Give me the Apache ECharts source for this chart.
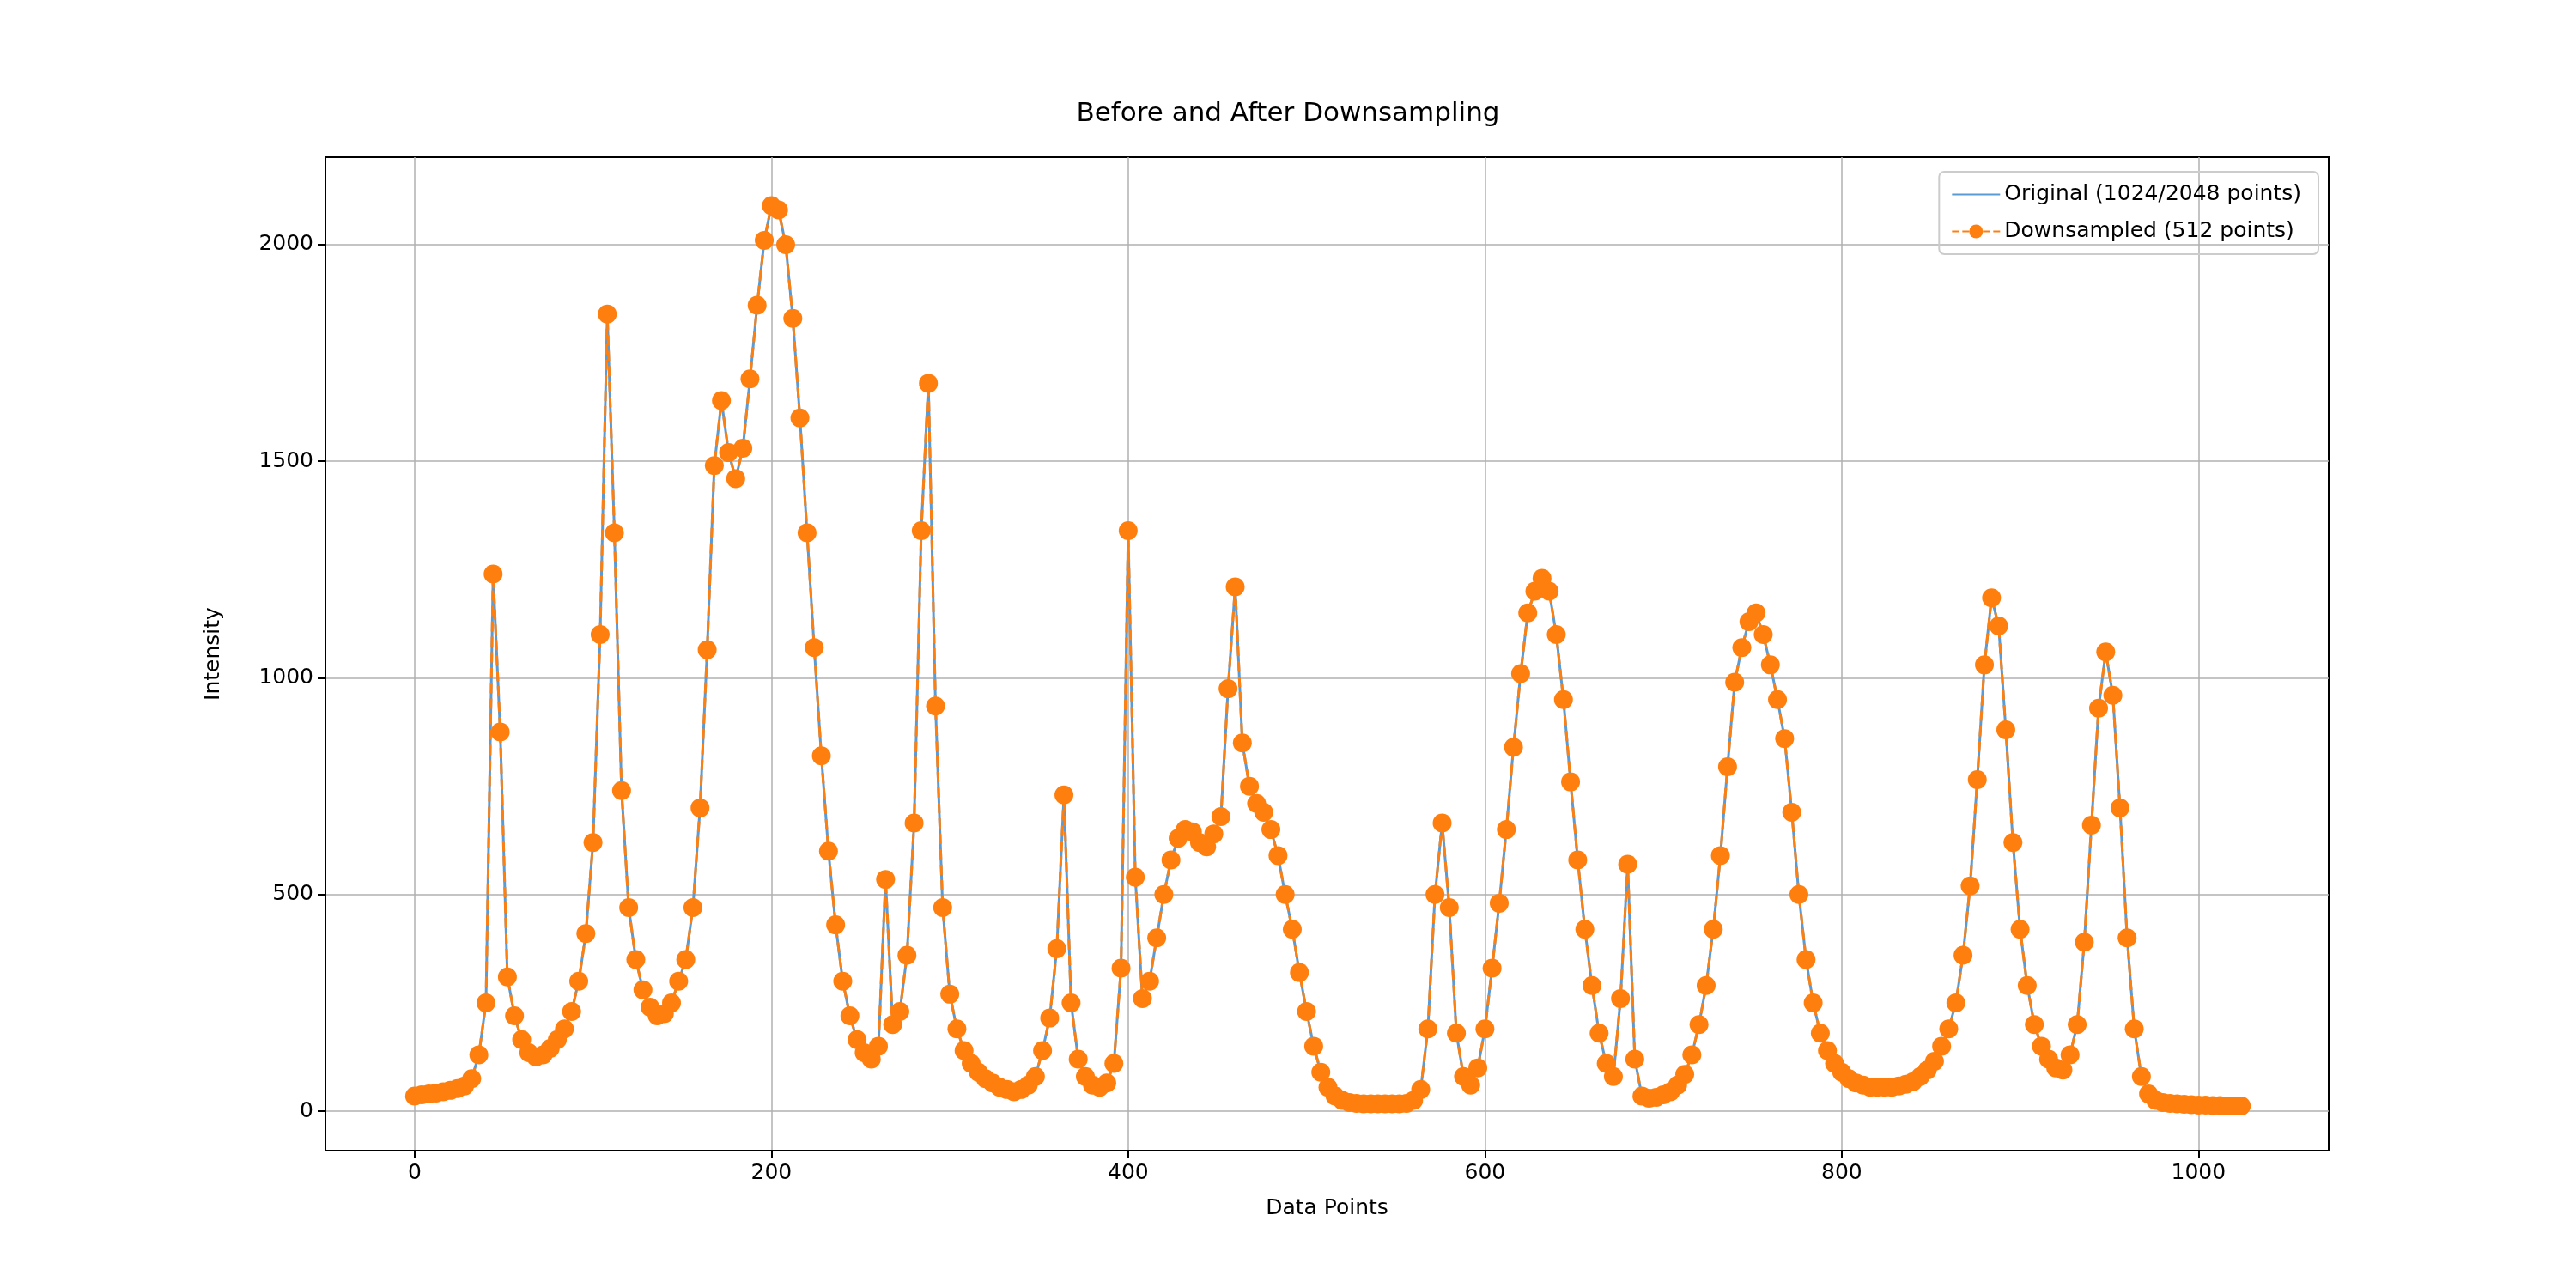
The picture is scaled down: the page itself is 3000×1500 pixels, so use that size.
<!DOCTYPE html>
<html><head><meta charset="utf-8">
<script src="https://cdn.jsdelivr.net/npm/echarts@6/dist/echarts.min.js"></script>
<style>html,body{margin:0;background:#fff}#c{width:3000px;height:1500px}</style>
</head><body><div id="c"></div>
<script>
const xStep = 4;
const intensity = [35,38,40,42,45,48,52,58,75,130,250,1240,875,310,220,165,135,125,130,145,165,190,230,300,410,620,1100,1840,1335,740,470,350,280,240,220,225,250,300,350,470,700,1065,1490,1640,1520,1460,1530,1690,1860,2010,2090,2080,2000,1830,1600,1335,1070,820,600,430,300,220,165,135,120,150,535,200,230,360,665,1340,1680,935,470,270,190,140,110,90,75,65,55,50,45,50,60,80,140,215,375,730,250,120,80,60,55,65,110,330,1340,540,260,300,400,500,580,630,650,645,620,610,640,680,975,1210,850,750,710,690,650,590,500,420,320,230,150,90,55,35,25,20,18,17,17,17,17,17,17,18,25,50,190,500,665,470,180,80,60,100,190,330,480,650,840,1010,1150,1200,1230,1200,1100,950,760,580,420,290,180,110,80,260,570,120,35,30,32,38,45,60,85,130,200,290,420,590,795,990,1070,1130,1150,1100,1030,950,860,690,500,350,250,180,140,110,90,75,65,60,55,55,55,55,58,62,68,80,95,115,150,190,250,360,520,765,1030,1185,1120,880,620,420,290,200,150,120,100,95,130,200,390,660,930,1060,960,700,400,190,80,40,25,20,18,17,16,15,14,14,13,13,12,12,12];
const yTicks = [0,500,1000,1500,2000];
const xTicks = [0,200,400,600,800,1000];
const data = intensity.map((v,i)=>[i*xStep,v]);
const ax = {color:'#000',fontSize:25,fontFamily:'DejaVu Sans'};
const chart = echarts.init(document.getElementById('c'));
chart.setOption({
  animation:false,
  title:{text:'Before and After Downsampling',left:'center',top:112,textStyle:{fontSize:31,fontWeight:'normal',color:'#000',fontFamily:'DejaVu Sans'}},
  legend:{top:200,right:300,orient:'vertical',itemWidth:56,itemHeight:20,itemGap:18,textStyle:{fontSize:25,fontFamily:'DejaVu Sans',color:'#000'},
    borderColor:'#ccc',borderWidth:2,borderRadius:6,padding:[14,20,14,14],
    data:[{name:'Original (1024/2048 points)',icon:'path://M0,9 L56,9 L56,11 L0,11 Z',itemStyle:{color:'#5b9bd5'}},{name:'Downsampled (512 points)'}]},
  grid:{left:379,right:288,top:183,bottom:160,show:true,borderColor:'#000',borderWidth:2,backgroundColor:'transparent'},
  xAxis:{type:'value',min:-50,max:1073,name:'Data Points',nameLocation:'middle',nameGap:55,nameTextStyle:ax,
    axisLine:{lineStyle:{color:'#000',width:2},onZero:false},axisTick:{length:9,lineStyle:{color:'#000',width:2},customValues:xTicks},
    axisLabel:Object.assign({customValues:xTicks,margin:14,formatter:v=>String(v)},ax),splitLine:{show:true,lineStyle:{color:'#b0b0b0',width:1.5}}},
  yAxis:{type:'value',min:-91,max:2202,name:'Intensity',nameLocation:'middle',nameGap:118,nameTextStyle:ax,
    axisLine:{show:true,lineStyle:{color:'#000',width:2},onZero:false},axisTick:{show:true,length:9,lineStyle:{color:'#000',width:2},customValues:yTicks},
    axisLabel:Object.assign({customValues:yTicks,margin:14,formatter:v=>String(v)},ax),splitLine:{show:true,lineStyle:{color:'#b0b0b0',width:1.5}}},
  series:[
    {name:'Original (1024/2048 points)',type:'line',data:data,showSymbol:false,symbol:'none',lineStyle:{color:'#5b9bd5',width:3},itemStyle:{color:'#5b9bd5'},z:2},
    {name:'Downsampled (512 points)',type:'line',data:data,symbol:'circle',symbolSize:22,lineStyle:{color:'#ff7f0e',width:3,type:'dashed'},itemStyle:{color:'#ff7f0e'},z:3}
  ]
});
</script></body></html>
